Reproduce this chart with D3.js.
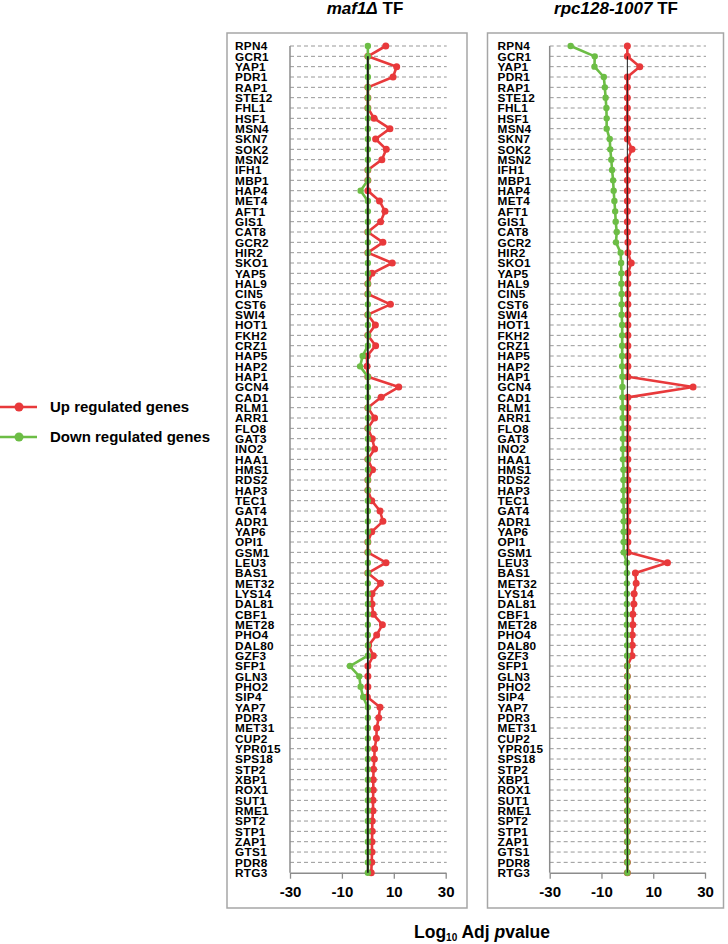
<!DOCTYPE html>
<html><head><meta charset="utf-8">
<script src="https://cdn.jsdelivr.net/npm/d3@7"></script>
<style>body{margin:0;background:#fff}svg{display:block;font-family:"Liberation Sans",Arial,sans-serif}</style>
</head><body><svg id="c" width="728" height="944"></svg>
<script>
const tfs = ["RPN4","GCR1","YAP1","PDR1","RAP1","STE12","FHL1","HSF1","MSN4","SKN7","SOK2","MSN2","IFH1","MBP1","HAP4","MET4","AFT1","GIS1","CAT8","GCR2","HIR2","SKO1","YAP5","HAL9","CIN5","CST6","SWI4","HOT1","FKH2","CRZ1","HAP5","HAP2","HAP1","GCN4","CAD1","RLM1","ARR1","FLO8","GAT3","INO2","HAA1","HMS1","RDS2","HAP3","TEC1","GAT4","ADR1","YAP6","OPI1","GSM1","LEU3","BAS1","MET32","LYS14","DAL81","CBF1","MET28","PHO4","DAL80","GZF3","SFP1","GLN3","PHO2","SIP4","YAP7","PDR3","MET31","CUP2","YPR015","SPS18","STP2","XBP1","ROX1","SUT1","RME1","SPT2","STP1","ZAP1","GTS1","PDR8","RTG3"];

const maf1Up = [6.9,0,11.1,9.7,0,0,0,2.4,8.5,3.0,7.1,5.4,0,0,0,4.5,6.6,4.9,0,5.8,0,9.4,1.6,0,0,8.7,0,2.9,0,3.0,-0.3,-0.3,0,11.9,5.1,0,2.6,0,1.7,2.6,0,1.8,0,0,1.5,4.7,5.8,1.5,0,0,7.0,0,4.9,1.6,1.6,2.1,5.6,3.4,0.3,2.1,0,0,0,-0.2,4.7,4.2,3.4,3.3,2.6,2.5,2.2,2.1,2.1,2.0,2.0,1.7,1.7,1.6,1.6,1.5,1.3];
const maf1Down = [0,0,0,0,0,0,0,0,0,0,0,0,0,0,-2.8,0,0,0,0,0,0,0,0,0,0,0,0,0,0,0,-2.0,-3.0,0,0,0,0,0,0,0,0,0,0,0,0,0,0,0,0,0,0,0,0,0,0,0,0,0,0,0,0,-6.9,-3.3,-2.8,-1.8,0,0,0,0,0,0,0,0,0,0,0,0,0,0,0,0,0];
const rpcUp = [0,0,4.8,0,0,0,0,0,0,0,1.8,0,0,0,0,0,0,0,0,0.2,0.2,1.5,0.2,0.2,0.2,0.2,0.2,0.2,0.2,0.2,0.2,0.2,0.2,25.4,0.2,0.2,0.2,0.2,0.2,0.2,0.2,0.2,0.2,0.2,0.2,0.2,0.2,0.2,0.2,0.3,15.5,3.1,3.4,2.6,2.5,2.1,2.1,1.9,1.9,1.8,0,0,0,0,0,0,0,0,0,0,0,0,0,0,0,0,0,0,0,0,0];
const rpcDown = [-21.9,-12.6,-12.7,-9.1,-8.7,-8.4,-8.1,-8.0,-8.0,-6.8,-6.6,-6.2,-5.9,-5.5,-5.3,-5.0,-4.7,-4.5,-4.1,-4.4,-2.6,-2.4,-2.3,-2.3,-2.2,-2.2,-2.2,-2.0,-2.0,-2.0,-2.0,-2.0,-1.9,-1.9,-1.9,-1.8,-1.8,-1.7,-1.7,-1.7,-1.7,-1.5,-1.5,-1.5,-1.5,-1.4,-1.4,-1.4,-1.4,-1.4,-0.2,-0.2,-0.2,-0.2,-0.2,-0.2,-0.2,-0.1,-0.1,-0.1,0,0,0,0,0,0,0,0,0,0,0,0,0,0,0,0,0,0,0,0,0];
const xTicks = [-30,-10,10,30];
const panelTitles = [["maf1\u0394"," TF"],["rpc128-1007"," TF"]];
const legendLabels = ["Up regulated genes","Down regulated genes"];

const RED = "#e8393b", GREEN = "#6cbd45";
const svg = d3.select("#c");
const y = d3.scalePoint().domain(tfs).range([46, 872.7]);

function panel(o){
  const g = svg.append("g");
  const x = d3.scaleLinear().domain([-30,30]).range([o.x0, o.x1]);
  g.append("rect").attr("x",o.bx).attr("y",33).attr("width",o.bw).attr("height",875)
    .attr("fill","none").attr("stroke","#a6a6a6").attr("stroke-width",1.5);
  g.selectAll("line.grid").data(tfs.slice(0,-1)).join("line")
    .attr("x1",x(-30)).attr("x2",x(30)+1).attr("y1",d=>y(d)).attr("y2",d=>y(d))
    .attr("stroke","#8c8c8c").attr("stroke-width",0.9).attr("stroke-dasharray","4,3");
  const xa = g.append("g").attr("transform",`translate(0,${y(tfs[tfs.length-1])})`)
    .call(d3.axisBottom(x).tickValues(xTicks).tickSize(6).tickSizeOuter(0).tickFormat(d3.format("d")).tickPadding(8));
  xa.select(".domain").attr("stroke","#8c8c8c").attr("stroke-width",1.5);
  xa.selectAll(".tick line").attr("stroke","#8c8c8c").attr("stroke-width",1.3);
  xa.selectAll(".tick text").attr("font-size",15).attr("font-weight","bold").attr("fill","#000")
    .attr("font-family","Liberation Sans, Arial, sans-serif")
    .text(d=>d<0?"-"+Math.abs(d):d);
  g.append("line").attr("x1",x(-30)).attr("x2",x(-30)).attr("y1",y(tfs[0])).attr("y2",y(tfs[tfs.length-1]))
    .attr("stroke","#8c8c8c").attr("stroke-width",1.5);
  g.selectAll("text.cat").data(tfs).join("text").attr("class","cat")
    .attr("x",o.lx).attr("y",d=>y(d)).attr("dy","0.36em")
    .attr("font-size",11.8).attr("letter-spacing",0.3).attr("font-weight","bold").attr("fill","#000").text(d=>d);
  const line = d3.line().x(d=>x(d[1])).y(d=>y(d[0]));
  [[o.up,RED,3.5],[o.down,GREEN,3.2]].forEach(([vals,col,r])=>{
    const pts = tfs.map((t,i)=>[t,vals[i]]);
    g.append("path").attr("d",line(pts)).attr("fill","none").attr("stroke",col).attr("stroke-width",2.6).attr("stroke-linejoin","round");
    g.selectAll(null).data(pts).join("circle").attr("cx",d=>x(d[1])).attr("cy",d=>y(d[0])).attr("r",r).attr("fill",col);
  });
  g.append("line").attr("x1",x(0)).attr("x2",x(0)).attr("y1",y(tfs[1])).attr("y2",y(tfs[tfs.length-1]))
    .attr("stroke","#1a1a1a").attr("stroke-width",o.zw);
  const t = svg.append("text").attr("x",o.tx).attr("y",14).attr("text-anchor","middle")
    .attr("font-size",17).attr("font-weight","bold");
  t.append("tspan").attr("font-style","italic").text(o.title[0]);
  t.append("tspan").text(o.title[1]);
}

panel({x0:290,x1:445.7,bx:227,bw:240,lx:235,up:maf1Up,down:maf1Down,zw:1.8,tx:365,title:panelTitles[0]});
panel({x0:549.7,x1:705,bx:487.5,bw:236,lx:497.5,up:rpcUp,down:rpcDown,zw:1.0,tx:616,title:panelTitles[1]});

[[RED,407],[GREEN,437]].forEach(([col,yy],i)=>{
  svg.append("line").attr("x1",0).attr("x2",37).attr("y1",yy).attr("y2",yy).attr("stroke",col).attr("stroke-width",2.6);
  svg.append("circle").attr("cx",19).attr("cy",yy).attr("r",4.5).attr("fill",col);
  svg.append("text").attr("x",50).attr("y",yy).attr("dy","0.36em").attr("font-size",15).attr("font-weight","bold").text(legendLabels[i]);
});

const at = svg.append("text").attr("x",482).attr("y",938).attr("text-anchor","middle").attr("font-size",17.5).attr("font-weight","bold");
at.append("tspan").text("Log");
at.append("tspan").attr("font-size",10).attr("dy",3).text("10");
at.append("tspan").attr("dy",-3).text(" Adj ");
at.append("tspan").attr("font-style","italic").text("p");
at.append("tspan").text("value");
</script></body></html>
